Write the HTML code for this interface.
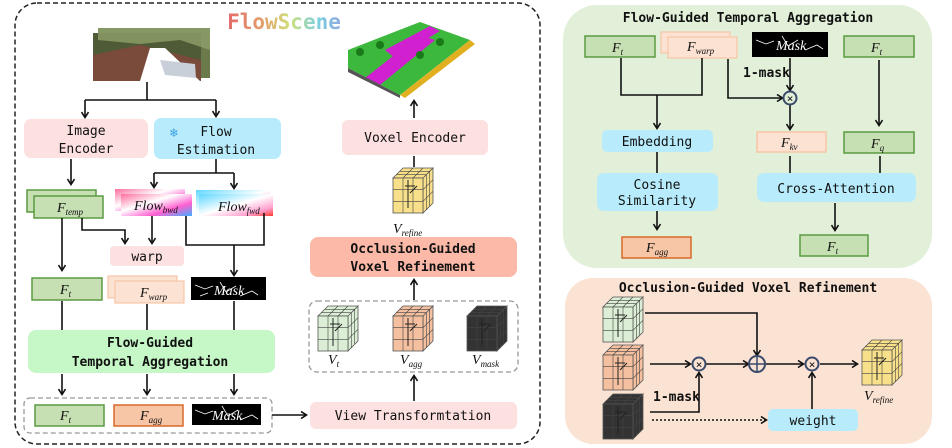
<!DOCTYPE html>
<html><head><meta charset="utf-8"><style>
body{margin:0;background:#fff}
svg{display:block}
text{font-family:"DejaVu Sans Mono","Liberation Mono",monospace;font-size:13px;fill:#111}
.b{font-weight:bold}
.it{font-family:"Liberation Serif",serif;font-style:italic;font-size:14px}
.sub{font-size:9px}
</style></head><body>
<svg width="952" height="448" viewBox="0 0 952 448" xmlns="http://www.w3.org/2000/svg">
<defs>
<marker id="a" markerWidth="8" markerHeight="8" refX="6" refY="4" orient="auto" markerUnits="userSpaceOnUse">
<path d="M1,0.5 L6.5,4 L1,7.5" fill="none" stroke="#111" stroke-width="1.6"/></marker>
<g id="cube">
<path d="M0,10 L10,0 L40,0 L30,10Z M30,10 L40,0 L40,35 L30,45Z" stroke="#555" stroke-width="0.8"/>
<rect x="0" y="10" width="30" height="35" stroke="#555" stroke-width="0.8"/>
<path d="M10,10V45M20,10V45M0,21.7H30M0,33.3H30M33.3,6.7V41.7M36.7,3.3V38.3M30,21.7L40,11.7M30,33.3L40,23.3M3.3,6.7H33.3M6.7,3.3H36.7M20,10L30,0M10,10L20,0" stroke="#444" stroke-width="0.6" fill="none"/>
<path d="M15,12V40M12,18H22M17,25L24,18" stroke="#222" stroke-width="1" fill="none"/>
</g>
<linearGradient id="ft" x1="0" x2="1"><stop offset="0" stop-color="#e36b6b"/><stop offset=".33" stop-color="#e3a36b"/><stop offset=".55" stop-color="#cfe07a"/><stop offset=".8" stop-color="#7ad0e0"/><stop offset="1" stop-color="#8fa8e0"/></linearGradient>
<linearGradient id="fb" x1="0" x2="1" y1="0" y2="1"><stop offset="0" stop-color="#ff6fa0"/><stop offset=".4" stop-color="#fff"/><stop offset=".7" stop-color="#ff5fd0"/><stop offset="1" stop-color="#3fb0ff"/></linearGradient>
<linearGradient id="ff" x1="0" x2="1" y1="0" y2="1"><stop offset="0" stop-color="#5fd8ff"/><stop offset=".5" stop-color="#fff"/><stop offset=".8" stop-color="#ff9fcf"/><stop offset="1" stop-color="#ff3a2a"/></linearGradient>
</defs>

<!-- LEFT PANEL -->
<rect x="15" y="3" width="525" height="441" rx="22" fill="none" stroke="#222" stroke-width="1.5" stroke-dasharray="5,3"/>
<text x="284" y="29" text-anchor="middle" class="b" style="fill:url(#ft);font-size:21px">FlowScene</text>

<!-- street image -->
<rect x="98" y="28" width="112" height="50" fill="#6b7a4a"/>
<rect x="93" y="33" width="108" height="48" fill="#4f5b36"/>
<path d="M93,55 L140,45 L201,60 L201,81 L93,81Z" fill="#7a4a3a"/>
<path d="M150,48 L165,48 L200,81 L140,81Z" fill="#fff"/>
<path d="M160,60 L195,64 L196,78 L165,75Z" fill="#c8cfd8"/>
<path d="M98,28 L210,28 L210,50 L180,40 L140,44 L98,40Z" fill="#8da06a" opacity=".8"/>

<rect x="24" y="119" width="124" height="39" rx="7" fill="#fde0e0"/>
<text x="86" y="135" text-anchor="middle">Image</text><text x="86" y="153" text-anchor="middle">Encoder</text>
<rect x="154" y="118" width="127" height="41" rx="7" fill="#b8ecfc"/>
<text x="170" y="137" style="fill:#3aa0e0;font-size:13px">❄</text>
<text x="216" y="136" text-anchor="middle">Flow</text><text x="216" y="154" text-anchor="middle">Estimation</text>

<rect x="27" y="190" width="69" height="22" fill="#c6e0b4" stroke="#5a9a40" stroke-width="1.5"/>
<rect x="34" y="196" width="69" height="22" fill="#c6e0b4" stroke="#5a9a40" stroke-width="1.5"/>
<text x="57" y="212" class="it">F<tspan class="sub" dy="3">temp</tspan></text>

<rect x="115" y="189" width="70" height="22" fill="url(#fb)"/>
<rect x="121" y="194" width="71" height="22" fill="url(#fb)"/>
<text x="134" y="210" class="it">Flow<tspan class="sub" dy="3">bwd</tspan></text>
<rect x="196" y="190" width="74" height="22" fill="url(#ff)"/>
<rect x="199" y="194" width="74" height="22" fill="url(#ff)"/>
<text x="218" y="211" class="it">Flow<tspan class="sub" dy="3">fwd</tspan></text>

<rect x="110" y="246" width="74" height="20" rx="4" fill="#fde0e0"/>
<text x="147" y="261" text-anchor="middle">warp</text>

<rect x="32" y="278" width="70" height="22" fill="#c6e0b4" stroke="#5a9a40" stroke-width="1.5"/>
<text x="60" y="294" class="it">F<tspan class="sub" dy="3">t</tspan></text>
<rect x="108" y="276" width="69" height="22" fill="#fbe2d2" stroke="#f7c6a6" stroke-width="1.2"/>
<rect x="115" y="281" width="69" height="22" fill="#fbe2d2" stroke="#f7c6a6" stroke-width="1.2"/>
<text x="140" y="297" class="it">F<tspan class="sub" dy="3">warp</tspan></text>
<rect x="191" y="277" width="75" height="23" fill="#000"/>
<path d="M195,285l10,4l8,-3M220,282l6,10l10,-6M240,296l12,-5l6,4M200,296l8,-3" stroke="#fff" stroke-width=".8" fill="none"/>
<text x="214" y="295" class="it" style="fill:#fff">Mask</text>

<rect x="28" y="330" width="247" height="43" rx="8" fill="#c6f7c6"/>
<text x="150" y="347" text-anchor="middle" class="b">Flow-Guided</text>
<text x="150" y="366" text-anchor="middle" class="b">Temporal Aggregation</text>

<rect x="24" y="398" width="248" height="35" rx="6" fill="none" stroke="#999" stroke-width="1.3" stroke-dasharray="5,3"/>
<rect x="35" y="405" width="69" height="21" fill="#c6e0b4" stroke="#5a9a40" stroke-width="1.5"/>
<text x="60" y="420" class="it">F<tspan class="sub" dy="3">t</tspan></text>
<rect x="114" y="405" width="69" height="21" fill="#f7c6a6" stroke="#d8692a" stroke-width="1.5"/>
<text x="140" y="420" class="it">F<tspan class="sub" dy="3">agg</tspan></text>
<rect x="192" y="404" width="69" height="21" fill="#000"/>
<path d="M195,410l10,4l8,-3M222,406l6,10l10,-6M240,420l12,-5l6,4" stroke="#fff" stroke-width=".8" fill="none"/>
<text x="212" y="420" class="it" style="fill:#fff">Mask</text>

<!-- scene -->
<path d="M348,50 L420,22 L470,40 L400,95 L348,68Z" fill="#3cb83c"/>
<path d="M385,50 L430,26 L440,31 L395,58Z M365,78 L420,35 L435,40 L380,85Z" fill="#d020d0"/>
<path d="M400,95 L470,40 L475,44 L405,98Z" fill="#e0b020"/>
<path d="M348,68 L400,95 L400,98 L348,72Z" fill="#555"/>
<circle cx="360" cy="52" r="4" fill="#1a7a1a"/><circle cx="380" cy="45" r="4" fill="#1a7a1a"/><circle cx="420" cy="55" r="4" fill="#1a7a1a"/><circle cx="440" cy="42" r="4" fill="#1a7a1a"/>

<rect x="342" y="120" width="146" height="35" rx="6" fill="#fde0e0"/>
<text x="415" y="142" text-anchor="middle">Voxel Encoder</text>
<use href="#cube" x="393" y="168" fill="#f8e08a"/>
<text x="393" y="233" class="it">V<tspan class="sub" dy="3">refine</tspan></text>
<rect x="310" y="237" width="207" height="40" rx="8" fill="#fcb9a8"/>
<text x="413" y="253" text-anchor="middle" class="b">Occlusion-Guided</text>
<text x="413" y="271" text-anchor="middle" class="b">Voxel Refinement</text>
<rect x="309" y="301" width="209" height="71" rx="8" fill="none" stroke="#999" stroke-width="1.3" stroke-dasharray="5,3"/>
<use href="#cube" x="318" y="306" fill="#dcefd6"/>
<use href="#cube" x="393" y="306" fill="#f5c0a0"/>
<use href="#cube" x="467" y="306" fill="#333"/>
<text x="328" y="364" class="it">V<tspan class="sub" dy="3">t</tspan></text>
<text x="400" y="364" class="it">V<tspan class="sub" dy="3">agg</tspan></text>
<text x="472" y="364" class="it">V<tspan class="sub" dy="3">mask</tspan></text>
<rect x="310" y="402" width="207" height="27" rx="6" fill="#fde0e0"/>
<text x="413" y="420" text-anchor="middle">View Transformtation</text>

<g stroke="#111" stroke-width="1.6" fill="none">
<path d="M147,82V100M85,100H216"/>
<path d="M85,100V117" marker-end="url(#a)"/>
<path d="M216,100V116" marker-end="url(#a)"/>
<path d="M71,159V184" marker-end="url(#a)"/>
<path d="M216,159V173M154,173H234"/>
<path d="M154,173V187" marker-end="url(#a)"/>
<path d="M234,173V188" marker-end="url(#a)"/>
<path d="M62,218V270" marker-end="url(#a)"/>
<path d="M82,218V230H125V243" marker-end="url(#a)"/>
<path d="M152,216V243" marker-end="url(#a)"/>
<path d="M186,216V245H264V213M234,245V275" marker-end="url(#a)"/>
<path d="M62,301V330M147,304V330M234,301V330"/>
<path d="M62,374V394" marker-end="url(#a)"/>
<path d="M147,374V394" marker-end="url(#a)"/>
<path d="M234,374V394" marker-end="url(#a)"/>
<path d="M272,415H306" marker-end="url(#a)"/>
<path d="M414,401V376" marker-end="url(#a)"/>
<path d="M414,300V280" marker-end="url(#a)"/>
<path d="M414,167V156"/>
<path d="M414,118V101" marker-end="url(#a)"/>
</g>

<!-- RIGHT TOP -->
<rect x="563" y="5" width="369" height="263" rx="34" fill="#e2f0d9"/>
<text x="748" y="22" text-anchor="middle" class="b">Flow-Guided Temporal Aggregation</text>
<rect x="585" y="36" width="70" height="21" fill="#c6e0b4" stroke="#5a9a40" stroke-width="1.5"/>
<text x="612" y="52" class="it">F<tspan class="sub" dy="3">t</tspan></text>
<rect x="661" y="32" width="69" height="21" fill="#fbe2d2" stroke="#f7c6a6" stroke-width="1.2"/>
<rect x="668" y="37" width="69" height="21" fill="#fbe2d2" stroke="#f7c6a6" stroke-width="1.2"/>
<text x="687" y="51" class="it">F<tspan class="sub" dy="3">warp</tspan></text>
<rect x="752" y="32" width="76" height="25" fill="#000"/>
<path d="M756,40l10,4l8,-3M782,36l6,10l10,-6M805,50l12,-5l6,4" stroke="#fff" stroke-width=".8" fill="none"/>
<text x="776" y="50" class="it" style="fill:#fff">Mask</text>
<text x="743" y="77" class="b">1-mask</text>
<rect x="844" y="36" width="70" height="21" fill="#c6e0b4" stroke="#5a9a40" stroke-width="1.5"/>
<text x="871" y="52" class="it">F<tspan class="sub" dy="3">t</tspan></text>
<rect x="602" y="130" width="111" height="22" rx="5" fill="#b8ecfc"/>
<text x="657" y="146" text-anchor="middle">Embedding</text>
<rect x="597" y="173" width="121" height="38" rx="7" fill="#b8ecfc"/>
<text x="657" y="189" text-anchor="middle">Cosine</text><text x="657" y="205" text-anchor="middle">Similarity</text>
<rect x="622" y="237" width="69" height="21" fill="#f7c6a6" stroke="#d8692a" stroke-width="1.5"/>
<text x="646" y="252" class="it">F<tspan class="sub" dy="3">agg</tspan></text>
<rect x="757" y="132" width="69" height="20" fill="#fbe2d2" stroke="#f7c6a6" stroke-width="1.5"/>
<text x="781" y="147" class="it">F<tspan class="sub" dy="3">kv</tspan></text>
<rect x="844" y="132" width="70" height="21" fill="#c6e0b4" stroke="#5a9a40" stroke-width="1.5"/>
<text x="871" y="148" class="it">F<tspan class="sub" dy="3">q</tspan></text>
<rect x="757" y="173" width="159" height="29" rx="7" fill="#b8ecfc"/>
<text x="836" y="193" text-anchor="middle">Cross-Attention</text>
<rect x="800" y="235" width="68" height="21" fill="#c6e0b4" stroke="#5a9a40" stroke-width="1.5"/>
<text x="827" y="251" class="it">F<tspan class="sub" dy="3">t</tspan></text>
<g stroke="#111" stroke-width="1.6" fill="none">
<path d="M621,58V95H702V58M657,95V128" marker-end="url(#a)"/>
<path d="M728,59V98H782" marker-end="url(#a)"/>
<path d="M790,58V90" marker-end="url(#a)"/>
<path d="M790,105V129" marker-end="url(#a)"/>
<path d="M879,60V125" marker-end="url(#a)"/>
<path d="M657,152V173M657,211V229" marker-end="url(#a)"/>
<path d="M790,156V173M880,156V173"/>
<path d="M835,203V230" marker-end="url(#a)"/>
</g>
<circle cx="790" cy="98" r="6.5" fill="#e2f0d9" stroke="#3a4a6a" stroke-width="2"/>
<text x="790" y="102" text-anchor="middle" style="font-size:11px">×</text>

<!-- RIGHT BOTTOM -->
<rect x="565" y="278" width="367" height="166" rx="28" fill="#fbe3d3"/>
<text x="748" y="292" text-anchor="middle" class="b">Occlusion-Guided Voxel Refinement</text>
<use href="#cube" x="603" y="297" fill="#dcefd6"/>
<use href="#cube" x="603" y="345" fill="#f5c0a0"/>
<use href="#cube" x="603" y="394" fill="#333"/>
<text x="653" y="401" class="b">1-mask</text>
<rect x="768" y="409" width="90" height="22" rx="5" fill="#b8ecfc"/>
<text x="813" y="425" text-anchor="middle">weight</text>
<use href="#cube" x="862" y="340" fill="#f8e08a"/>
<text x="864" y="400" class="it">V<tspan class="sub" dy="3">refine</tspan></text>
<g stroke="#111" stroke-width="1.6" fill="none">
<path d="M645,313H757V355" marker-end="url(#a)"/>
<path d="M650,364H690" marker-end="url(#a)"/>
<path d="M706,364H748" marker-end="url(#a)"/>
<path d="M766,364H803" marker-end="url(#a)"/>
<path d="M820,364H857" marker-end="url(#a)"/>
<path d="M650,412H699V373" marker-end="url(#a)"/>
<path d="M812,409V373" marker-end="url(#a)"/>
<path d="M652,420H766" stroke-dasharray="2,2" marker-end="url(#a)"/>
</g>
<circle cx="699" cy="364" r="6.5" fill="#fbe3d3" stroke="#3a4a6a" stroke-width="2"/>
<text x="699" y="368" text-anchor="middle" style="font-size:11px">×</text>
<circle cx="757" cy="364" r="8" fill="#fbe3d3" stroke="#3a4a6a" stroke-width="2"/>
<path d="M757,356V372M749,364H765" stroke="#3a4a6a" stroke-width="1.5"/>
<circle cx="812" cy="364" r="6.5" fill="#fbe3d3" stroke="#3a4a6a" stroke-width="2"/>
<text x="812" y="368" text-anchor="middle" style="font-size:11px">×</text>
</svg>
</body></html>
